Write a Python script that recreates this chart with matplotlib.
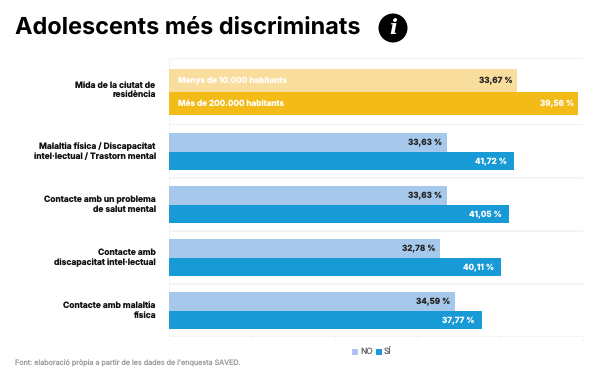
import matplotlib
matplotlib.use('Agg')
import matplotlib.pyplot as plt
from matplotlib.patches import Circle, Rectangle

plt.rcParams['font.family'] = ['Inter', 'DejaVu Sans']
plt.rcParams['text.hinting'] = 'no_hinting'
plt.rcParams['text.hinting_factor'] = 1

# Dades
city_labels = ['Menys de 10.000 habitants', 'Més de 200.000 habitants']
city_values = [33.67, 39.56]
city_text = ['33,67 %', '39,56 %']
group_title = 'Mida de la ciutat de\nresidència'

categories = ['Malaltia física / Discapacitat\nintel·lectual / Trastorn mental',
              'Contacte amb un problema\nde salut mental',
              'Contacte amb\ndiscapacitat intel·lectual',
              'Contacte amb malaltia\nfísica']
no_values = [33.63, 33.63, 32.78, 34.59]
si_values = [41.72, 41.05, 40.11, 37.77]
no_text = ['33,63 %', '33,63 %', '32,78 %', '34,59 %']
si_text = ['41,72 %', '41,05 %', '40,11 %', '37,77 %']

W, H = 600, 376
LIGHT_YELLOW = '#f9dd9c'
YELLOW = '#f2bb18'
LIGHT_BLUE = '#a6c8ea'
BLUE = '#189ad6'
GRID = '#f1f2f5'
VAL_FS = 5.9
CAT_FS = 6.1

fig = plt.figure(figsize=(W / 100, H / 100), dpi=100, facecolor='white')


def px_axes(left, top, right, bottom):
    return fig.add_axes([left / W, 1 - bottom / H, (right - left) / W, (bottom - top) / H])


def style(ax):
    for s in ax.spines.values():
        s.set_visible(False)
    ax.set_yticks([])
    ax.patch.set_alpha(0)


# Panell superior (escala 0-40)
ax1 = px_axes(169, 58, 583, 125)
ax1.set_xlim(0, 40)
ax1.set_ylim(1.935, -0.98)
ax1.barh([0, 1], city_values, height=1.0, color=[LIGHT_YELLOW, YELLOW], zorder=2)
style(ax1)
ax1.set_xticks([])
for y, lab, val, txt, col in zip([0, 1], city_labels, city_values, city_text, ['#222222', 'white']):
    ax1.text(0.9, y, lab, color='white', fontsize=VAL_FS, fontweight='bold', va='center', ha='left', zorder=3)
    ax1.text(val - 0.45, y, txt, color=col, fontsize=VAL_FS, fontweight='bold', va='center', ha='right', zorder=3)
ax1.axhline(-0.98, color=GRID, lw=1.0, zorder=1)
ax1.axhline(1.935, color=GRID, lw=1.6, zorder=1)
ax1.axvline(0, color=GRID, lw=0.6, zorder=1)
ax1.text(-1.3, 0.42, group_title, fontsize=CAT_FS, fontweight='bold', color='#111111',
         ha='right', va='center', linespacing=1.2)

# Panell inferior (escala 0-50)
ax2 = px_axes(169, 125, 583, 337)
ax2.set_xlim(0, 50)
ax2.set_ylim(3.5, -0.5)
h = 0.349
for i, cat in enumerate(categories):
    ax2.barh(i - h / 2, no_values[i], height=h, color=LIGHT_BLUE, zorder=2)
    ax2.barh(i + h / 2, si_values[i], height=h, color=BLUE, zorder=2)
    ax2.text(no_values[i] - 0.6, i - h / 2, no_text[i], color='#222222', fontsize=VAL_FS,
             fontweight='bold', va='center', ha='right', zorder=3)
    ax2.text(si_values[i] - 0.9, i + h / 2, si_text[i], color='white', fontsize=VAL_FS,
             fontweight='bold', va='center', ha='right', zorder=3)
    ax2.text(-1.6, i, cat, fontsize=CAT_FS, fontweight='bold', color='#111111',
             ha='right', va='center', linespacing=1.2)
    ax2.axhline(i + 0.5, color=GRID, lw=1.2, zorder=1)
style(ax2)
ax2.axvline(0, color=GRID, lw=0.6, zorder=1)
ax2.set_xticks([0, 10, 20, 30, 40, 50])
ax2.set_xticklabels([])
ax2.tick_params(axis='x', length=2, width=0.7, color=GRID, pad=0)

# Capçalera
fig.text(15 / W, 1 - 28 / H, 'Adolescents més discriminats', fontsize=16.9, fontweight='bold',
         color='black', ha='left', va='center')
fig.add_artist(Circle((393, H - 28), 14.5, transform=None, facecolor='black', edgecolor='none'))
fig.text(393 / W, 1 - 28 / H, 'i', fontsize=15, fontweight='bold', style='italic', color='white',
         family='DejaVu Serif', ha='center', va='center')

# Llegenda
fig.add_artist(Rectangle((352 / W, 1 - 355 / H), 6 / W, 6 / H, transform=fig.transFigure,
                         facecolor=LIGHT_BLUE, edgecolor='none'))
fig.text(360 / W, 1 - 351.5 / H, 'NO', fontsize=6.0, color='#666666', ha='left', va='center')
fig.add_artist(Rectangle((376 / W, 1 - 355 / H), 6 / W, 6 / H, transform=fig.transFigure,
                         facecolor=BLUE, edgecolor='none'))
fig.text(384 / W, 1 - 351.5 / H, 'SÍ', fontsize=6.0, color='#666666', ha='left', va='center')

# Font
fig.text(15 / W, 1 - 363.5 / H, "Font: elaboració pròpia a partir de les dades de l'enquesta SAVED.",
         fontsize=5.18, color='#999999', ha='left', va='center')

fig.savefig('out.png', dpi=100, facecolor='white')
plt.close(fig)
